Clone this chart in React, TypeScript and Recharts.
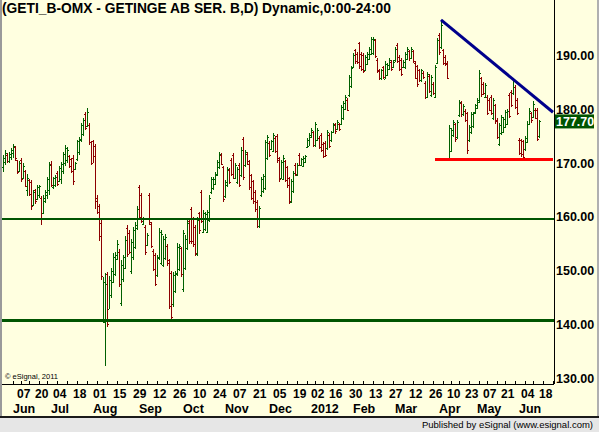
import React from 'react';
import { ComposedChart, Bar, XAxis, YAxis, ReferenceLine } from 'recharts';

// trading calendar (Stockholm), first slot and closed days
const FIRST_DAY = '2011-05-23';
const SLOT_COUNT = 276;
const HOLIDAYS = [
  '2011-06-02', '2011-06-06', '2011-06-24', '2011-12-26', '2012-01-06',
  '2012-04-06', '2012-04-09', '2012-05-01', '2012-05-17', '2012-06-06',
];
const MONTHS = ['2012', 'Feb', 'Mar', 'Apr', 'May', 'Jun', 'Jul', 'Aug', 'Sep', 'Oct', 'Nov', 'Dec'];

// daily OHLC
const opens = [
  169.3, 170.2, 171.5, 170.4, 171.2, 171.8, 173.0, 170.5, 168.5, 170.6,
  167.2, 168.5, 165.0, 166.8, 166.5, 162.2, 165.0, 163.4, 164.0, 163.5,
  160.8, 163.0, 164.0, 165.0, 169.8, 165.6, 166.0, 168.2, 166.6, 167.0,
  168.5, 170.0, 170.5, 171.3, 170.8, 171.0, 168.8, 170.8, 172.0, 174.3,
  175.4, 179.0, 176.8, 177.0, 173.8, 174.0, 173.2, 163.6, 162.0, 158.8,
  141.0, 140.5, 149.5, 143.0, 145.5, 148.0, 149.5, 152.3, 153.5, 144.0,
  148.5, 150.6, 158.0, 157.0, 150.0, 152.5, 154.5, 158.0, 165.5, 164.0,
  158.7, 158.2, 154.8, 164.0, 158.7, 153.7, 153.0, 149.3, 152.4, 151.5,
  151.2, 152.4, 154.7, 152.0, 149.6, 143.8, 146.3, 149.4, 150.4, 154.2,
  146.6, 150.6, 154.3, 159.2, 161.5, 159.7, 158.2, 153.1, 160.7, 164.6,
  157.3, 157.8, 157.3, 159.4, 164.7, 165.3, 166.2, 167.8, 169.3, 171.5,
  169.2, 163.8, 165.9, 168.7, 170.6, 171.5, 167.3, 166.5, 169.7, 167.8,
  174.5, 169.6, 171.7, 170.3, 167.7, 166.6, 164.7, 162.8, 158.3, 164.1,
  164.8, 165.3, 170.9, 173.7, 172.6, 172.3, 174.7, 175.0, 170.9, 167.3,
  167.1, 170.3, 169.2, 167.2, 162.8, 164.8, 169.7, 167.8, 171.5, 169.7,
  169.5, 170.2, 172.9, 173.2, 174.8, 175.7, 173.3, 174.3, 174.7, 175.2,
  173.6, 173.7, 172.7, 175.2, 174.2, 175.7, 177.2, 176.3, 177.2, 177.2,
  178.3, 180.0, 181.7, 182.6, 184.3, 187.7, 190.9, 190.2, 192.2, 190.2,
  190.0, 187.3, 188.3, 189.3, 190.2, 190.3, 192.7, 189.1, 187.2, 185.7,
  187.7, 185.6, 186.3, 187.4, 188.7, 187.7, 189.0, 191.9, 189.7, 189.1,
  187.7, 187.8, 189.3, 190.7, 189.5, 190.7, 188.5, 187.9, 187.2, 185.3,
  186.7, 184.8, 182.3, 186.2, 182.6, 184.7, 182.3, 188.5, 193.7, 191.5,
  190.9, 189.7, 188.5, 170.6, 172.3, 175.2, 177.2, 174.8, 178.9, 181.2,
  179.0, 179.7, 179.2, 174.2, 175.8, 176.8, 179.4, 180.2, 181.3, 185.7,
  184.7, 182.3, 182.3, 181.7, 182.3, 178.3, 180.7, 178.0, 173.6, 175.5,
  175.8, 176.7, 177.3, 182.6, 183.2, 182.9, 184.1, 181.7, 174.3, 174.2,
  174.0, 172.6, 173.9, 177.3, 179.2, 178.6, 179.8, 179.8, 175.0,
];
const highs = [
  171.5, 172.4, 171.8, 172.0, 172.8, 173.6, 173.2, 170.6, 170.4, 171.0,
  170.0, 168.7, 168.0, 167.0, 166.9, 165.0, 165.2, 165.9, 166.0, 163.8,
  164.0, 165.0, 167.5, 170.2, 170.3, 167.5, 167.8, 168.5, 169.5, 170.2,
  172.0, 173.3, 172.9, 171.5, 171.0, 171.5, 170.2, 174.3, 174.9, 177.5,
  178.3, 179.4, 180.1, 177.4, 174.0, 174.3, 173.5, 164.0, 162.5, 159.4,
  148.9, 149.6, 149.9, 149.0, 150.5, 153.3, 153.5, 155.7, 154.0, 152.0,
  153.0, 156.4, 158.5, 157.5, 156.0, 158.2, 159.0, 162.0, 165.9, 164.4,
  160.0, 158.5, 157.0, 164.4, 159.0, 154.0, 153.3, 153.0, 157.9, 157.5,
  156.5, 156.9, 155.0, 152.3, 150.0, 149.9, 150.0, 155.1, 155.0, 154.5,
  157.6, 156.6, 159.4, 159.5, 161.9, 160.0, 158.5, 160.0, 161.0, 165.0,
  161.3, 161.0, 161.3, 164.0, 167.5, 167.5, 168.4, 170.5, 172.1, 171.8,
  169.5, 166.9, 169.3, 169.0, 170.9, 171.8, 170.0, 169.3, 170.0, 173.0,
  174.9, 172.4, 172.0, 170.6, 168.0, 166.9, 165.0, 163.1, 162.0, 167.5,
  168.0, 174.3, 175.2, 174.0, 174.3, 175.5, 175.0, 175.3, 171.2, 170.5,
  171.4, 170.6, 169.5, 167.5, 167.0, 168.5, 170.0, 170.0, 171.8, 171.0,
  171.3, 171.5, 174.6, 175.5, 176.4, 176.0, 177.6, 176.5, 175.0, 175.5,
  173.9, 174.0, 176.1, 175.5, 176.0, 177.4, 177.5, 177.9, 177.5, 180.7,
  181.5, 182.6, 182.0, 186.3, 188.0, 190.3, 191.2, 190.5, 192.5, 190.5,
  190.3, 190.0, 190.5, 191.5, 193.4, 193.4, 193.0, 189.4, 187.5, 187.5,
  188.0, 188.8, 188.5, 189.4, 189.0, 189.0, 191.5, 192.2, 190.0, 189.4,
  189.0, 190.6, 191.5, 191.0, 191.5, 191.0, 188.8, 188.2, 187.5, 187.5,
  187.0, 185.1, 186.9, 186.5, 186.3, 185.0, 188.2, 193.1, 194.0, 196.5,
  191.2, 190.0, 188.8, 177.0, 176.5, 178.0, 177.5, 178.0, 181.7, 181.5,
  181.0, 180.0, 179.5, 177.0, 179.5, 179.5, 181.0, 182.0, 187.2, 186.0,
  185.0, 184.8, 182.6, 182.0, 182.6, 182.0, 181.0, 178.3, 177.5, 178.9,
  178.5, 179.8, 180.0, 182.9, 183.5, 185.7, 184.4, 182.0, 174.6, 174.5,
  174.3, 175.0, 177.7, 180.1, 179.5, 181.4, 180.1, 180.1, 178.0,
];
const lows = [
  168.4, 169.6, 169.9, 170.0, 170.6, 171.0, 170.5, 168.0, 168.3, 166.5,
  167.0, 165.5, 164.0, 163.8, 161.3, 162.0, 162.5, 163.2, 163.5, 158.5,
  160.5, 162.5, 163.5, 164.0, 165.5, 165.3, 165.6, 165.8, 166.5, 166.2,
  168.0, 169.5, 170.0, 169.0, 168.3, 166.0, 168.7, 170.5, 171.5, 174.0,
  175.0, 176.0, 176.6, 173.3, 169.5, 170.0, 161.5, 160.5, 155.7, 148.3,
  140.3, 132.3, 139.7, 142.8, 145.0, 147.7, 149.0, 152.0, 147.0, 143.4,
  148.0, 150.2, 152.6, 153.0, 149.6, 152.0, 154.0, 157.6, 159.5, 158.8,
  158.5, 153.0, 154.5, 158.5, 154.2, 150.0, 147.1, 149.0, 152.0, 151.0,
  150.8, 152.0, 151.0, 143.0, 140.9, 143.4, 146.0, 149.0, 150.0, 148.9,
  146.2, 150.2, 153.9, 155.0, 155.0, 154.5, 152.7, 152.7, 157.0, 158.8,
  157.0, 157.5, 157.0, 159.0, 164.4, 165.0, 165.9, 167.5, 169.0, 169.5,
  162.8, 163.5, 165.6, 166.0, 167.5, 166.9, 167.0, 166.2, 165.5, 167.5,
  166.9, 169.3, 169.5, 165.0, 163.1, 162.5, 161.0, 157.9, 158.0, 163.8,
  164.5, 165.0, 170.6, 171.0, 172.4, 172.0, 171.8, 170.0, 166.5, 167.0,
  166.8, 166.5, 165.5, 162.5, 162.5, 164.5, 167.5, 167.5, 169.3, 169.5,
  169.3, 170.0, 172.7, 173.0, 174.6, 173.0, 173.0, 174.0, 172.5, 172.0,
  170.9, 171.0, 172.4, 172.8, 174.0, 175.5, 175.5, 176.1, 176.0, 177.0,
  178.0, 179.8, 179.5, 182.3, 184.0, 187.5, 188.5, 188.3, 187.5, 187.0,
  186.6, 187.0, 188.0, 189.1, 190.0, 190.0, 189.5, 186.6, 185.4, 185.5,
  185.5, 185.4, 186.0, 187.2, 187.0, 187.5, 188.8, 188.5, 187.0, 186.0,
  187.5, 187.5, 189.1, 189.0, 189.3, 188.5, 185.4, 184.1, 185.0, 185.1,
  185.5, 181.7, 182.0, 183.0, 182.3, 182.5, 182.0, 188.2, 190.0, 191.2,
  188.2, 188.0, 185.4, 170.3, 172.0, 174.9, 174.0, 174.5, 178.6, 178.6,
  178.8, 177.5, 171.8, 173.9, 175.5, 176.5, 179.2, 180.0, 181.0, 182.3,
  182.5, 182.0, 178.9, 179.5, 178.9, 178.0, 177.3, 174.5, 173.3, 175.2,
  175.5, 176.4, 177.0, 178.3, 180.4, 182.6, 180.0, 178.9, 171.5, 171.2,
  170.6, 172.3, 173.6, 177.0, 177.5, 178.3, 178.0, 173.9, 174.6,
];
const closes = [
  171.0, 171.9, 170.3, 171.6, 172.4, 173.1, 170.9, 168.4, 170.0, 167.0,
  169.4, 165.8, 167.2, 164.2, 162.0, 164.6, 163.0, 165.5, 165.7, 160.8,
  163.6, 164.6, 167.0, 169.7, 166.0, 167.2, 167.5, 166.2, 169.0, 169.8,
  171.6, 172.8, 172.5, 169.4, 168.6, 166.6, 170.0, 174.0, 174.5, 177.1,
  178.0, 176.5, 179.5, 173.8, 170.0, 171.3, 163.0, 161.0, 156.5, 149.0,
  148.0, 147.5, 140.2, 148.3, 150.0, 152.6, 153.0, 155.0, 147.6, 151.2,
  152.5, 155.8, 153.2, 153.6, 155.4, 157.6, 158.6, 161.5, 160.0, 159.3,
  159.8, 153.5, 156.6, 159.0, 154.7, 150.4, 147.6, 152.5, 157.3, 156.8,
  156.0, 156.3, 151.4, 143.6, 141.5, 149.2, 149.6, 154.5, 154.6, 149.4,
  157.0, 156.0, 158.8, 155.5, 155.6, 155.0, 153.3, 159.4, 157.5, 159.3,
  160.8, 160.6, 160.9, 163.5, 167.0, 167.1, 168.0, 170.1, 171.7, 169.9,
  163.3, 166.5, 168.9, 166.4, 167.9, 167.3, 169.6, 168.9, 166.0, 172.5,
  167.5, 172.0, 169.9, 165.5, 163.6, 163.0, 161.4, 158.4, 161.6, 167.1,
  167.6, 173.8, 174.8, 171.4, 174.0, 175.1, 172.2, 170.5, 167.0, 170.1,
  171.0, 166.9, 165.9, 163.0, 166.6, 168.1, 167.9, 169.6, 169.7, 170.7,
  171.0, 171.3, 174.3, 175.2, 176.1, 173.4, 177.2, 176.2, 172.9, 172.4,
  171.3, 171.4, 175.7, 173.2, 175.7, 177.1, 175.9, 177.6, 176.3, 180.3,
  181.1, 182.3, 179.9, 185.9, 187.6, 190.0, 188.9, 188.7, 188.0, 187.4,
  187.0, 189.6, 190.2, 191.2, 193.0, 193.0, 189.9, 187.0, 185.8, 187.2,
  185.9, 188.4, 188.2, 189.1, 187.4, 188.7, 191.2, 188.9, 187.4, 186.5,
  188.7, 190.2, 191.2, 189.4, 191.2, 188.9, 185.8, 184.6, 185.4, 187.2,
  185.9, 182.2, 186.5, 183.4, 185.9, 182.9, 187.8, 192.7, 190.5, 195.5,
  188.6, 188.3, 185.8, 176.5, 176.1, 177.6, 174.4, 177.6, 181.3, 179.0,
  180.6, 177.9, 172.4, 176.6, 179.1, 179.2, 180.7, 181.7, 186.7, 182.7,
  182.9, 184.4, 179.3, 179.9, 179.3, 181.6, 177.7, 174.9, 177.1, 178.5,
  178.2, 179.4, 179.7, 178.7, 180.8, 185.3, 180.4, 179.3, 171.9, 171.6,
  171.1, 174.7, 177.3, 179.7, 177.9, 181.0, 178.4, 174.5, 177.7,
];

// drawn studies
const supportLevels = [159.6, 140.8];
const floorLine = { from: '2012-03-27', price: 170.6 };
const trendLine = { from: '2012-03-30', fromPrice: 196.5, toPrice: 179.4 };
const lastPrice = 177.7;
const priceTicks = [130, 140, 150, 160, 170, 180, 190];
const PRICE_DOMAIN = [129.07, 200.19];

const UP = '#006000';
const DOWN = '#8c0000';
const FONT = '"Liberation Sans", Arial, sans-serif';

function buildCalendar() {
  const out: string[] = [];
  const d = new Date(FIRST_DAY + 'T00:00:00Z');
  while (out.length < SLOT_COUNT) {
    const iso = d.toISOString().slice(0, 10);
    const wd = d.getUTCDay();
    if (wd !== 0 && wd !== 6 && !HOLIDAYS.includes(iso)) out.push(iso);
    d.setUTCDate(d.getUTCDate() + 1);
  }
  return out;
}

const days = buildCalendar();
const WEEK = 7 * 86400000;
const t0 = Date.parse(FIRST_DAY + 'T00:00:00Z');

type TickInfo = { week: boolean; day: string | null; month: string | null };
const tickInfo: Record<string, TickInfo> = {};
days.forEach((iso, i) => {
  if (i === 0) return;
  const prev = days[i - 1];
  const wk = Math.floor((Date.parse(iso + 'T00:00:00Z') - t0) / WEEK);
  const prevWk = Math.floor((Date.parse(prev + 'T00:00:00Z') - t0) / WEEK);
  const newWeek = wk !== prevWk;
  const newMonth = iso.slice(5, 7) !== prev.slice(5, 7);
  if (!newWeek && !newMonth) return;
  tickInfo[iso] = {
    week: newWeek,
    day: newWeek && wk % 2 === 0 ? iso.slice(8, 10) : null,
    month: newMonth ? MONTHS[Number(iso.slice(5, 7)) - 1] : null,
  };
});
const xTicks = Object.keys(tickInfo);

const data = days.map((date, i) => ({
  date,
  open: opens[i],
  high: highs[i],
  low: lows[i],
  close: closes[i],
  range: i < highs.length ? [lows[i], highs[i]] : null,
}));

const OhlcShape = (props: any) => {
  const { x, y, width, height, payload } = props;
  if (!payload || payload.high == null) return null;
  const { open, high, low, close } = payload;
  const top = Math.min(y, y + height);
  const span = Math.abs(height);
  const perUnit = high > low ? span / (high - low) : 0;
  const cx = Math.round(x + width / 2 - 0.5);
  const yo = Math.round(top + (high - open) * perUnit);
  const yc = Math.round(top + (high - close) * perUnit);
  return (
    <g fill={close >= open ? UP : DOWN} shapeRendering="crispEdges">
      <rect x={cx} y={Math.round(top)} width={1} height={Math.max(Math.round(span), 1)} />
      <rect x={cx - 1} y={yo} width={1} height={1} />
      <rect x={cx + 1} y={yc} width={1} height={1} />
    </g>
  );
};

const DateTick = (props: any) => {
  const { x, y, payload } = props;
  const info = tickInfo[payload.value];
  if (!info) return null;
  return (
    <g>
      {info.week && (
        <line x1={x + 0.5} x2={x + 0.5} y1={y - 3} y2={y} stroke="#000" shapeRendering="crispEdges" />
      )}
      {info.day && (
        <text x={x - 4} y={y + 14} fontFamily={FONT} fontWeight="bold" fontSize={12} fill="#000">
          {info.day}
        </text>
      )}
      {info.month && (
        <text x={x - 4} y={y + 29} fontFamily={FONT} fontWeight="bold" fontSize={12.5} fill="#000">
          {info.month}
        </text>
      )}
    </g>
  );
};

const PriceTick = (props: any) => {
  const { x, y, payload } = props;
  return (
    <text x={x} y={y + 4.5} fontFamily={FONT} fontWeight="bold" fontSize={12.5} fill="#000">
      {payload.value.toFixed(2)}
    </text>
  );
};

const PriceBox = (props: any) => {
  const { viewBox } = props;
  if (!viewBox) return null;
  const right = viewBox.x + viewBox.width;
  return (
    <g>
      <rect x={right + 1} y={viewBox.y - 7} width={39} height={14} fill="#005400" />
      <text x={right + 2} y={viewBox.y + 4.5} fontFamily={FONT} fontWeight="bold" fontSize={12.5} fill="#fff">
        {lastPrice.toFixed(2)}
      </text>
    </g>
  );
};

export default function App() {
  const lastSlot = days[days.length - 1];
  return (
    <div
      style={{
        position: 'absolute',
        left: 0,
        top: 0,
        width: 599,
        height: 432,
        background: '#FFFFE0',
        overflow: 'hidden',
        fontFamily: FONT,
      }}
    >
      <ComposedChart width={599} height={432} data={data} margin={{ top: 0, right: 0, bottom: 14, left: 2 }}>
        <XAxis
          dataKey="date"
          ticks={xTicks}
          interval={0}
          height={34}
          tickSize={0}
          tickMargin={0}
          tickLine={false}
          axisLine={{ stroke: '#000', shapeRendering: 'crispEdges' }}
          tick={<DateTick />}
        />
        <YAxis
          orientation="right"
          width={45}
          domain={PRICE_DOMAIN}
          allowDataOverflow
          ticks={priceTicks}
          tickSize={0}
          tickMargin={2}
          tickLine={false}
          axisLine={{ stroke: '#000', shapeRendering: 'crispEdges' }}
          tick={<PriceTick />}
        />
        <Bar dataKey="range" shape={<OhlcShape />} isAnimationActive={false} />
        {supportLevels.map((lvl) => (
          <ReferenceLine key={lvl} y={lvl} stroke="#005500" strokeWidth={2.5} shapeRendering="crispEdges" />
        ))}
        <ReferenceLine
          segment={[
            { x: floorLine.from, y: floorLine.price },
            { x: lastSlot, y: floorLine.price },
          ]}
          stroke="#ff0000"
          strokeWidth={3}
          shapeRendering="crispEdges"
        />
        <ReferenceLine
          segment={[
            { x: trendLine.from, y: trendLine.fromPrice },
            { x: lastSlot, y: trendLine.toPrice },
          ]}
          stroke="#00008c"
          strokeWidth={3}
        />
        <ReferenceLine y={lastPrice} stroke="none" label={<PriceBox />} />
      </ComposedChart>

      <div
        style={{
          position: 'absolute',
          left: 2,
          top: 1,
          fontSize: 13.8,
          lineHeight: '15px',
          fontWeight: 'bold',
          color: '#000',
          whiteSpace: 'nowrap',
        }}
      >
        (GETI_B-OMX - GETINGE AB SER. B,D) Dynamic,0:00-24:00
      </div>
      <div style={{ position: 'absolute', left: 5, top: 372, fontSize: 7.5, lineHeight: '9px', color: '#000' }}>
        © eSignal, 2011
      </div>
      <div style={{ position: 'absolute', left: 0, top: 0, width: 2, height: 416, background: '#9a9a9a' }} />
      <div style={{ position: 'absolute', right: 0, top: 0, width: 2, height: 416, background: '#b0b0b0' }} />
      <div
        style={{
          position: 'absolute',
          left: 0,
          top: 416,
          width: 599,
          height: 16,
          background: '#e6e6e6',
          borderTop: '2px solid #1a1a1a',
          boxSizing: 'border-box',
        }}
      >
        <div
          style={{
            position: 'absolute',
            right: 6,
            top: 1,
            fontSize: 9.5,
            lineHeight: '12px',
            color: '#000',
            whiteSpace: 'nowrap',
          }}
        >
          Published by eSignal (www.esignal.com)
        </div>
      </div>
    </div>
  );
}
